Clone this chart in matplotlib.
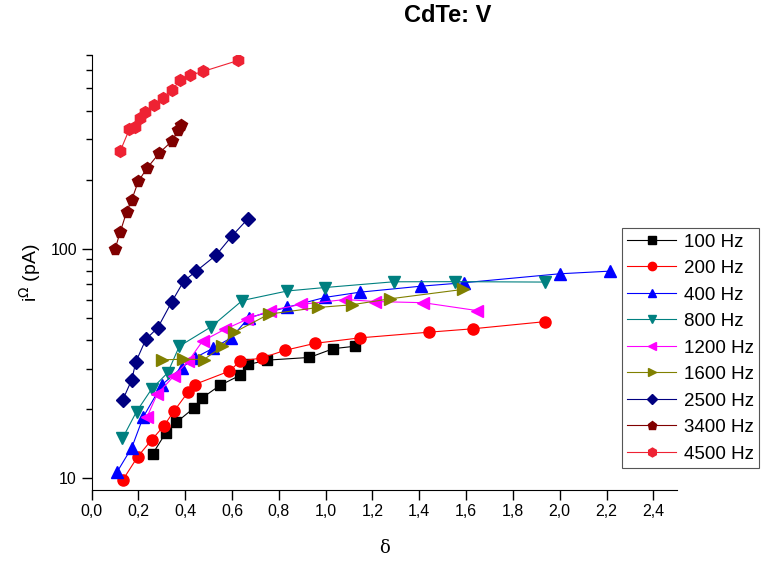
import matplotlib
matplotlib.use("Agg")
import matplotlib.pyplot as plt
from matplotlib.ticker import FixedLocator, NullFormatter, FixedFormatter

plt.rcParams['font.family'] = ['Liberation Sans', 'DejaVu Sans']

# data (delta, current in pA)
x100 = [0.262, 0.316, 0.362, 0.439, 0.473, 0.549, 0.635, 0.670, 0.750, 0.931, 1.033, 1.126]
y100 = [12.8, 15.7, 17.5, 20.3, 22.4, 25.4, 28.1, 31.3, 32.7, 33.6, 36.7, 37.6]

x200 = [0.133, 0.197, 0.257, 0.309, 0.352, 0.412, 0.440, 0.589, 0.635, 0.727, 0.827, 0.954, 1.147, 1.442, 1.629, 1.935]
y200 = [9.8, 12.4, 14.7, 16.9, 19.6, 23.7, 25.6, 29.3, 32.4, 33.4, 36.1, 38.7, 40.9, 43.3, 44.8, 48.1]

x400 = [0.108, 0.172, 0.221, 0.300, 0.385, 0.442, 0.518, 0.596, 0.672, 0.835, 0.998, 1.147, 1.407, 1.589, 1.999, 2.213]
y400 = [10.6, 13.6, 18.5, 25.5, 30.3, 33.5, 36.8, 40.9, 50.1, 55.6, 61.4, 64.7, 68.7, 71.1, 77.8, 79.9]

x800 = [0.132, 0.192, 0.257, 0.325, 0.375, 0.511, 0.644, 0.837, 0.998, 1.290, 1.554, 1.938]
y800 = [14.9, 19.5, 24.5, 28.8, 37.6, 45.7, 59.5, 65.5, 67.8, 71.8, 71.9, 71.6]

x1200 = [0.237, 0.280, 0.352, 0.414, 0.474, 0.568, 0.663, 0.762, 0.894, 1.083, 1.212, 1.418, 1.646]
y1200 = [18.5, 23.2, 27.9, 32.4, 39.6, 44.5, 49.2, 53.8, 57.2, 60.1, 58.9, 58.2, 53.8]

x1600 = [0.301, 0.389, 0.480, 0.558, 0.609, 0.758, 0.969, 1.112, 1.274, 1.586]
y1600 = [32.8, 33.0, 32.9, 37.5, 43.2, 51.9, 55.5, 57.0, 60.5, 66.5]

x2500 = [0.133, 0.172, 0.189, 0.232, 0.283, 0.343, 0.394, 0.447, 0.532, 0.599, 0.669]
y2500 = [21.9, 26.9, 32.1, 40.3, 45.3, 58.8, 72.3, 79.9, 93.8, 113.5, 135.5]

x3400 = [0.100, 0.122, 0.150, 0.172, 0.200, 0.236, 0.290, 0.345, 0.371, 0.381]
y3400 = [99.3, 118, 145, 164, 197, 224, 262, 296, 331, 346]

x4500 = [0.122, 0.162, 0.186, 0.207, 0.229, 0.267, 0.304, 0.343, 0.378, 0.421, 0.478, 0.627]
y4500 = [266, 333, 340, 372, 394, 425, 455, 491, 543, 571, 594, 663]

labels = ['100 Hz', '200 Hz', '400 Hz', '800 Hz', '1200 Hz', '1600 Hz', '2500 Hz', '3400 Hz', '4500 Hz']
xs = [x100, x200, x400, x800, x1200, x1600, x2500, x3400, x4500]
ys = [y100, y200, y400, y800, y1200, y1600, y2500, y3400, y4500]
colors = ['#000000', '#FF0000', '#0000FF', '#008080', '#FF00FF', '#808000', '#000080', '#800000', '#EE2233']
markers = ['s', 'o', '^', 'v', '<', '>', 'D', 'p', 'h']
sizes = [7, 8, 8.5, 8.5, 8.5, 8.5, 7, 8.5, 8.5]

fig = plt.figure(figsize=(7.63, 5.61), dpi=100)
ax = fig.add_axes([0.12, 0.127, 0.767, 0.775])

for x, y, c, m, s, lab in zip(xs, ys, colors, markers, sizes, labels):
    ax.plot(x, y, color=c, marker=m, markersize=s, markeredgecolor=c,
            linewidth=0.8, label=lab)

ax.set_yscale('log')
ax.set_xlim(0, 2.5)
ax.set_ylim(8.9, 700)

ax.spines['top'].set_visible(False)
ax.spines['right'].set_visible(False)

xt = [0.0, 0.2, 0.4, 0.6, 0.8, 1.0, 1.2, 1.4, 1.6, 1.8, 2.0, 2.2, 2.4]
ax.xaxis.set_major_locator(FixedLocator(xt))
ax.xaxis.set_major_formatter(FixedFormatter([('%.1f' % v).replace('.', ',') for v in xt]))

ax.yaxis.set_major_locator(FixedLocator([10, 100]))
ax.yaxis.set_major_formatter(FixedFormatter(['10', '100']))
ax.yaxis.set_minor_locator(FixedLocator([20, 30, 40, 50, 60, 70, 80, 90, 200, 300, 400, 500, 600, 700]))
ax.yaxis.set_minor_formatter(NullFormatter())

ax.tick_params(which='major', direction='out', length=7, width=1, labelsize=11.5)
ax.tick_params(which='minor', direction='out', length=4, width=1)

ax.set_xlabel('δ', family='DejaVu Serif', fontsize=13, labelpad=14)
ax.set_ylabel(r'i$^{\Omega}$ (pA)', fontsize=14, labelpad=5)

fig.text(0.587, 0.972, 'CdTe: V', fontsize=17, fontweight='bold', ha='center', va='center')

leg = ax.legend(loc='upper left', bbox_to_anchor=(0.815, 0.594), bbox_transform=fig.transFigure,
                fontsize=13.5, fancybox=False, framealpha=1, edgecolor='#555555',
                markerscale=0.75, handlelength=2.6, labelspacing=0.5, borderaxespad=0,
                borderpad=0.3, handletextpad=0.4)
leg.get_frame().set_linewidth(0.8)

fig.savefig('out.png', dpi=100)
